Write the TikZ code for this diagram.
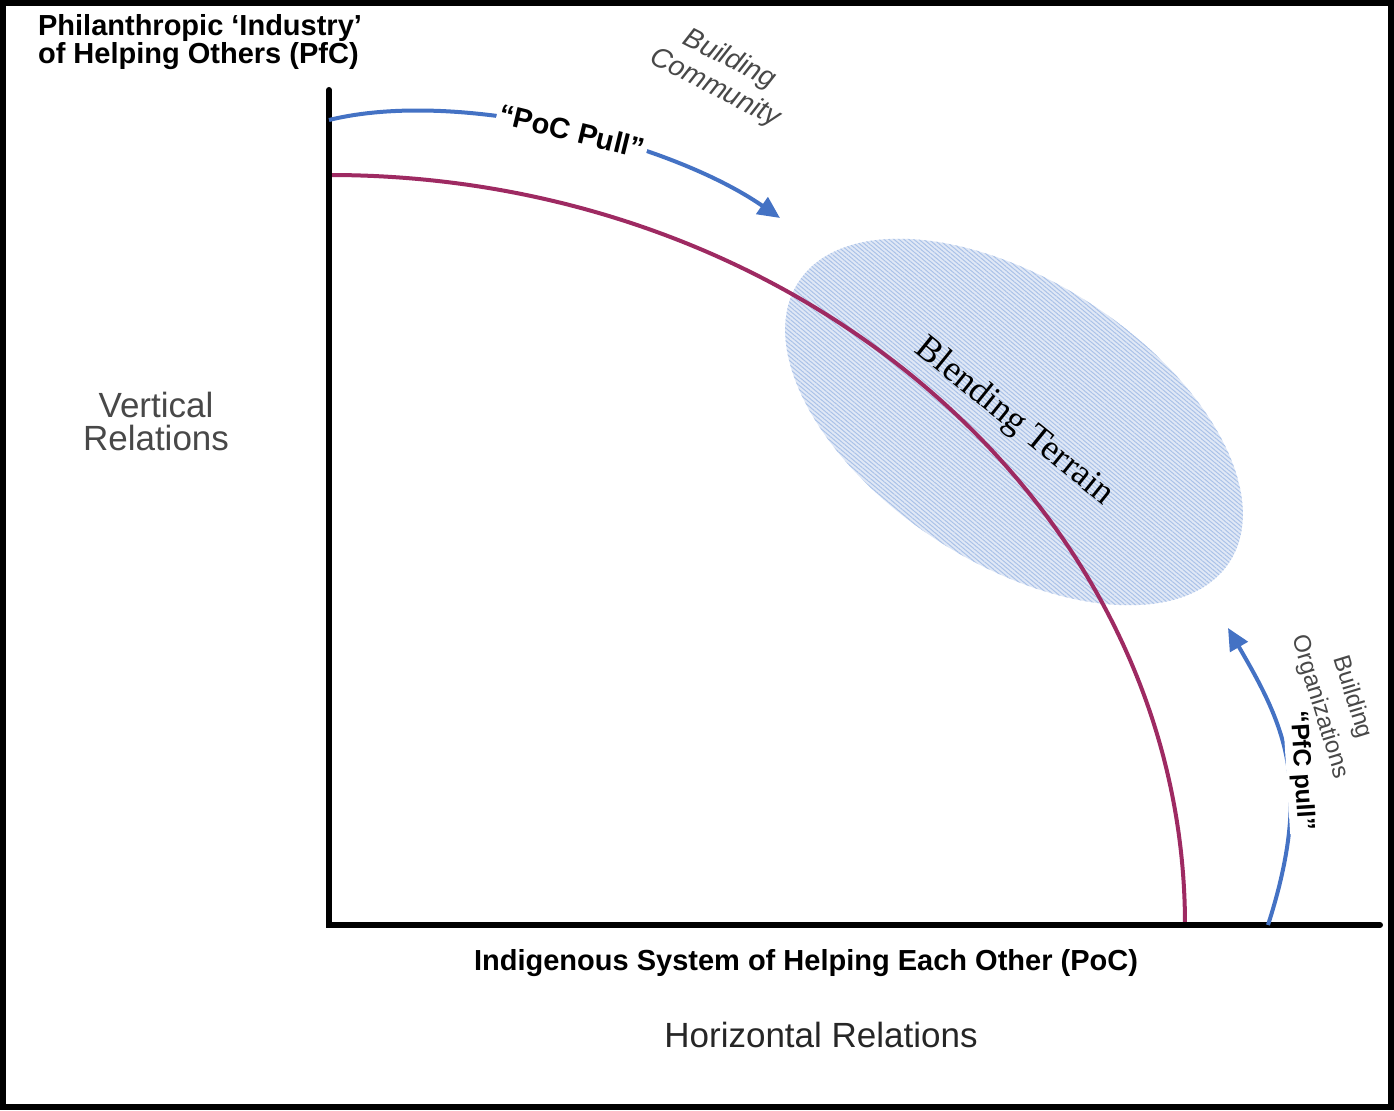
\documentclass[tikz,border=0pt]{standalone}
\usepackage{fontspec}
\setmainfont{Liberation Sans}
\newfontfamily\terrainfont{Liberation Serif}
\usetikzlibrary{arrows.meta,patterns.meta}
\definecolor{pullblue}{RGB}{68,114,196}
\definecolor{frontier}{RGB}{158,42,98}
\definecolor{blendfill}{RGB}{224,232,246}
\definecolor{blendline}{RGB}{170,194,232}
\definecolor{notegray}{RGB}{72,72,72}
\tikzset{
  axisline/.style={black,line width=3pt,line cap=round,line join=miter},
  frontline/.style={frontier,line width=2pt},
  pull/.style={pullblue,line width=2pt,-{Triangle[length=11pt,width=10pt]}},
  boldlabel/.style={font=\fontsize{14.5}{14}\selectfont\bfseries},
  pulllabel/.style={text=black,fill=white,inner sep=1.5pt},
  relabel/.style={font=\fontsize{17.5}{16.5}\selectfont,align=center},
  notelabel/.style={notegray,align=center},
  blend/.style={preaction={fill=blendfill},
    pattern={Lines[angle=-40,distance=1.6pt,line width=.5pt]},pattern color=blendline}
}
\begin{document}
\begin{tikzpicture}[x=.5pt,y=.5pt]
    \useasboundingbox (0,0) rectangle (1394,1110);
    \draw[line width=3pt] (3,3) rectangle (1391,1107);

    \coordinate (O) at (329,185);
    \coordinate (ytop) at (329,1020);
    \coordinate (xend) at (1380,185);
    \coordinate (F1) at (329,935);
    \coordinate (pocA) at (329,990);
    \coordinate (pocB) at (780,892);
    \coordinate (pfcA) at (1268,185);
    \coordinate (pfcB) at (1228,482);
    \coordinate (blendc) at (1014,688);

    \fill[blend,rotate around={-33:(blendc)}] (blendc) ellipse[x radius=257,y radius=141];
    \draw[frontline] (F1) arc[start angle=90,end angle=0,x radius=856,y radius=750] coordinate (F2);
    \draw[axisline] (ytop) -- (O) -- (xend);

    \node[font=\fontsize{18}{20}\selectfont\terrainfont,rotate=-39] (terrain) at (blendc) {Blending Terrain};

    \draw[pull] (pocA) .. controls (460,1022) and (670,968) .. (pocB)
        node[boldlabel,pulllabel,pos=.52,sloped] (pocpull) {“PoC Pull”};
    \draw[pull] (pfcA) .. controls (1314,328) and (1283,387) .. (pfcB);
    \node[pulllabel,font=\fontsize{12.5}{14}\selectfont\bfseries,rotate=-86.5] (pfcpull) at (1301,339) {“PfC pull”};

    \node[notelabel,font=\fontsize{14}{16}\selectfont\itshape,rotate=-27] (community) at (722,1036) {Building\\Community};
    \node[notelabel,font=\fontsize{12}{17}\selectfont,rotate=-73] (organizations) at (1336,408) {Building\\Organizations};

    \node[boldlabel,align=left] (pfcaxis) at (200,1068) {Philanthropic ‘Industry’\\of Helping Others (PfC)};
    \node[boldlabel] (pocaxis) at (806,147) {Indigenous System of Helping Each Other (PoC)};
    \node[relabel,text=notegray] (vertical) at (156,689) {Vertical\\Relations};
    \node[relabel,text=black!85] (horizontal) at (821,75) {Horizontal Relations};
\end{tikzpicture}
\end{document}
